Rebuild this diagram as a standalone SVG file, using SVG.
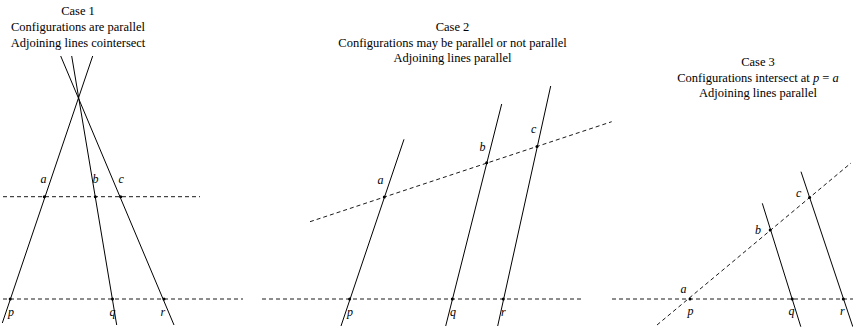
<svg xmlns="http://www.w3.org/2000/svg" width="853" height="328" viewBox="0 0 853 328">
<style>
.t{font-family:"Liberation Serif","Times New Roman",serif;font-size:12.5px;fill:#000;text-anchor:middle}
.l{font-family:"Liberation Serif","Times New Roman",serif;font-size:12px;font-style:italic;fill:#000}
.s{stroke:#000;stroke-width:1;fill:none}
.d{stroke:#000;stroke-width:0.9;fill:none;stroke-dasharray:4 3}
.p{fill:#000}
</style>
<rect width="853" height="328" fill="#fff"/>
<g id="case1">
<g id="case1-title">
<text class="t" x="78" y="15">Case 1</text>
<text class="t" x="78" y="31">Configurations are parallel</text>
<text class="t" x="78" y="46.7">Adjoining lines cointersect</text>
</g>
<g id="case1-lines">
<line class="s" x1="92.7" y1="56" x2="2.3" y2="323"/>
<line class="s" x1="71.7" y1="56" x2="116.7" y2="325"/>
<line class="s" x1="60.7" y1="56" x2="174" y2="325"/>
<line class="d" x1="3" y1="196.7" x2="200" y2="196.7"/>
<line class="d" x1="3" y1="299" x2="243" y2="299"/>
</g>
<g id="case1-points">
<circle class="p" cx="44.3" cy="196.7" r="1.5"/>
<circle class="p" cx="95.3" cy="196.7" r="1.5"/>
<circle class="p" cx="120.7" cy="196.7" r="1.5"/>
<circle class="p" cx="10.2" cy="299" r="1.5"/>
<circle class="p" cx="112.5" cy="299" r="1.5"/>
<circle class="p" cx="164" cy="299" r="1.5"/>
<text class="l" x="40.5" y="183">a</text>
<text class="l" x="92.5" y="183">b</text>
<text class="l" x="118.5" y="183">c</text>
<text class="l" x="8" y="316">p</text>
<text class="l" x="109.5" y="316">q</text>
<text class="l" x="160.5" y="316">r</text>
</g>
</g>
<g id="case2">
<g id="case2-title">
<text class="t" x="452.5" y="31">Case 2</text>
<text class="t" x="452.5" y="46.7">Configurations may be parallel or not parallel</text>
<text class="t" x="452.5" y="62">Adjoining lines parallel</text>
</g>
<g id="case2-lines">
<line class="s" x1="404" y1="139.3" x2="341" y2="326"/>
<line class="s" x1="501.7" y1="104" x2="445.7" y2="326"/>
<line class="s" x1="550.7" y1="86" x2="497.7" y2="326"/>
<line class="d" x1="310" y1="221.7" x2="611.7" y2="121.7"/>
<line class="d" x1="262" y1="299" x2="582" y2="299"/>
</g>
<g id="case2-points">
<circle class="p" cx="384.3" cy="196.9" r="1.5"/>
<circle class="p" cx="486.7" cy="162.8" r="1.5"/>
<circle class="p" cx="537" cy="146.4" r="1.5"/>
<circle class="p" cx="349.6" cy="299" r="1.5"/>
<circle class="p" cx="452.3" cy="299" r="1.5"/>
<circle class="p" cx="503.3" cy="299" r="1.5"/>
<text class="l" x="377.5" y="184">a</text>
<text class="l" x="479.5" y="150.7">b</text>
<text class="l" x="531" y="133.3">c</text>
<text class="l" x="347" y="316">p</text>
<text class="l" x="450" y="316">q</text>
<text class="l" x="501" y="316">r</text>
</g>
</g>
<g id="case3">
<g id="case3-title">
<text class="t" x="758" y="66">Case 3</text>
<text class="t" x="758" y="81.5">Configurations intersect at <tspan font-style="italic">p</tspan> = <tspan font-style="italic">a</tspan></text>
<text class="t" x="758" y="97.3">Adjoining lines parallel</text>
</g>
<g id="case3-lines">
<line class="s" x1="762.3" y1="203.3" x2="800.8" y2="326.7"/>
<line class="s" x1="801" y1="171.7" x2="852.8" y2="326.7"/>
<line class="d" x1="657" y1="325" x2="851" y2="163"/>
<line class="d" x1="612" y1="299" x2="853" y2="299"/>
</g>
<g id="case3-points">
<circle class="p" cx="690" cy="299" r="1.5"/>
<circle class="p" cx="770.2" cy="230" r="1.5"/>
<circle class="p" cx="809.6" cy="197.4" r="1.5"/>
<circle class="p" cx="792.3" cy="299" r="1.5"/>
<circle class="p" cx="843.3" cy="299" r="1.5"/>
<text class="l" x="680.5" y="293.3">a</text>
<text class="l" x="687.5" y="315">p</text>
<text class="l" x="788.5" y="315">q</text>
<text class="l" x="840" y="315">r</text>
<text class="l" x="755" y="233.5">b</text>
<text class="l" x="796" y="196.5">c</text>
</g>
</g>
</svg>
